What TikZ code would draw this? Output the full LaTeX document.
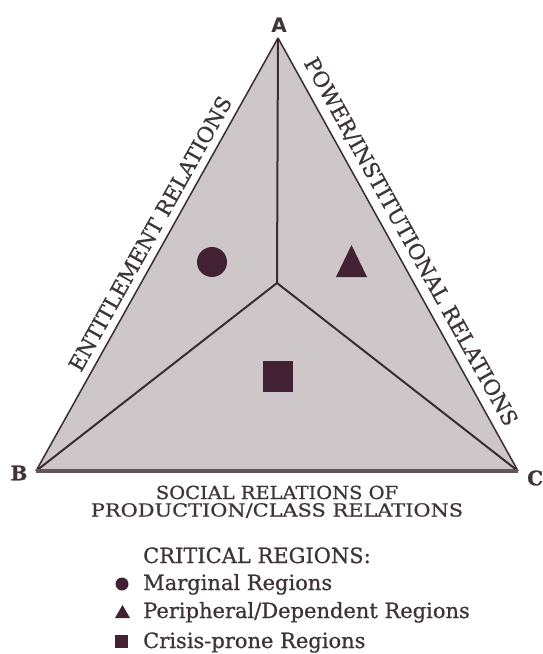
\documentclass[tikz,border=0pt]{standalone}
\usepackage{fontspec}
\setmainfont{DejaVu Serif}[FakeBold=0.7]
\setsansfont{DejaVu Sans}
\definecolor{txt}{RGB}{62,52,54}
\definecolor{trifill}{RGB}{206,199,202}
\definecolor{lin}{RGB}{58,44,50}
\definecolor{mark}{RGB}{66,34,50}
\definecolor{basec}{RGB}{100,86,88}
\begin{document}
\begin{tikzpicture}[x=1pt,y=-1pt,
  lbl/.style={text=txt, font=\fontsize{18}{18}\selectfont, inner sep=0pt},
  side/.style={text=txt, font=\fontsize{21.3}{21.3}\selectfont, inner sep=0pt},
  leg/.style={text=txt, font=\fontsize{21}{21}\selectfont, inner sep=0pt, anchor=base west},
  vlab/.style={text=txt, font=\fontsize{20}{20}\selectfont\bfseries, inner sep=0pt},
  edge/.style={draw=lin, line width=1.5pt},
  innerline/.style={draw=lin, line width=2pt},
  baseline/.style={draw=basec, line width=4.5pt},
  markfill/.style={fill=mark, draw=none}]
\useasboundingbox (0,0) rectangle (542,654);
\fill[white] (0,0) rectangle (542,654);
% vertices
\coordinate (A) at (278,38);
\coordinate (B) at (36,471);
\coordinate (C) at (518,471);
\coordinate (O) at (277,283);
% triangle
\fill[trifill] (A) -- (B) -- (C) -- cycle;
\draw[edge] (A) -- (B);
\draw[edge] (A) -- (C);
\draw[innerline] (O) -- (A);
\draw[innerline] (O) -- (B);
\draw[innerline] (O) -- (C);
\draw[baseline] (B) -- (C);
% region markers
\fill[markfill] (212,262) circle (15);
\fill[markfill] (336,277) -- (367,277) -- (351.5,245) -- cycle;
\fill[markfill] (263,361) rectangle (293,392);
% vertex labels
\node[vlab, font=\fontsize{20}{20}\selectfont\sffamily\bfseries] (la) at (279,25) {A};
\node[vlab] (lb) at (19,473) {B};
\node[vlab, anchor=west] (lc) at (527,478) {C};
% side labels
\path (B) -- (A) node[side, pos=0.53, sloped, above=8pt] (ent) {ENTITLEMENT RELATIONS};
\path (A) -- (C) node[side, pos=0.49, sloped, above=8pt] (pow) {POWER/INSTITUTIONAL RELATIONS};
\node[lbl, anchor=base] (soc1) at (277,499) {\scalebox{1.08}[1]{SOCIAL RELATIONS OF}};
\node[lbl, anchor=base] (soc2) at (277,516.5) {\scalebox{1.16}[1]{PRODUCTION/CLASS RELATIONS}};
% legend
\node[leg] (crit) at (143,563) {CRITICAL REGIONS:};
\node[leg] (l1) at (143,590) {Marginal Regions};
\node[leg] (l2) at (143,618) {Peripheral/Dependent Regions};
\node[leg] (l3) at (143,648) {Crisis-prone Regions};
\fill[markfill] (122,584) circle (6.5);
\fill[markfill] (115,618) -- (130,618) -- (122.5,605) -- cycle;
\fill[markfill] (115,635) rectangle (128,648);
\end{tikzpicture}
\end{document}
